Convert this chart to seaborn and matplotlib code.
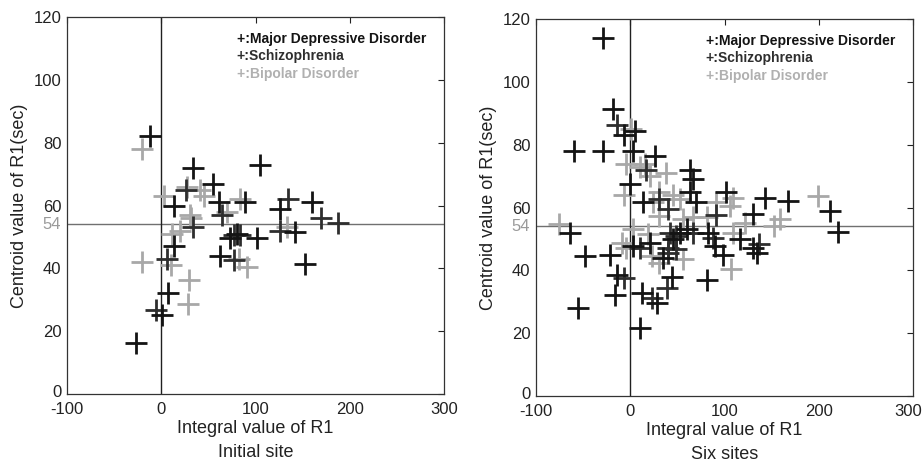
import numpy as np
import pandas as pd
import matplotlib
matplotlib.use("Agg")
import matplotlib.pyplot as plt
import matplotlib.transforms as mtransforms
import seaborn as sns

# ---- Initial site ----
init_mdd_x = [-12, 34, 105, 55, 13, 61, 89, 73, 80, 102, 126, 160, 142, 152, 62, 13, -27, 7, 1]
init_mdd_y = [82, 72, 73, 67, 60, 61, 61, 49.5, 51, 49.7, 59, 61, 51.6, 41.5, 44, 47, 16.3, 32.3, 25]
init_scz_x = [26, 34, 64, 77, 84, 135, 170, 188, 126, 77, 6, -6]
init_scz_y = [65, 53, 57, 50.5, 50.5, 62, 56, 54.5, 52, 42.5, 43, 26.6]
init_bp_x = [-20, 27, 3, 41, 45, 31, 32, 70, 84, 133, 82, 91, -20, 10, 29, 28, 20, 11]
init_bp_y = [78, 66, 63, 65, 63, 57, 56, 58, 62, 53, 43, 40.4, 42, 41, 36.4, 28.7, 52, 51]

# ---- Six sites ----
six_mdd_x = [-29, -18, -7, 5, -60, -29, 3, 26, 63, 67, 0, 63, 70, 14, 102, 143, 167, 212, 220,
             130, -64, -48, -55, -21.5, -14.5, -16, 3, 21, 35, 45.6, 52.6, 60, 83, 90, 98.6, 81,
             12, 28, 44, 10, 130, 135, 116]
six_mdd_y = [114, 91.4, 83, 84.5, 78, 78, 78, 76.5, 72, 69, 67.5, 65, 61.6, 61.6, 65, 63, 62, 59, 52.2,
             58, 52, 44.6, 28, 45, 38.4, 32.3, 47.8, 48.8, 44, 50, 52, 53, 52, 47.8, 45, 37,
             32.8, 29.6, 38, 21.6, 47.2, 45.6, 50]
six_scz_x = [-14.5, 17, 10, 40, 49, 42, 67, 88, 22.6, 38.5, 40, 49, 137, 91, 40, 31, -7]
six_scz_y = [86.4, 72, 47.2, 47.2, 51, 52, 52, 50.4, 31.2, 34.4, 45.6, 46.7, 48.3, 57.6, 59.5, 62.7, 37.6]
six_bp_x = [1, -4, 10, 38, 21, -7, 31, 45.6, 53, 24, 109, 106, 91.5, 199, 159, 152, 121.5, 109, -76,
            -9, -4, 22.6, 31, 56, 67, 81, 56, 107, 3, 19, 31, 15.5]
six_bp_y = [85, 74, 73, 71, 70, 64, 65, 64, 62.7, 61.6, 63, 60.5, 61.6, 63.7, 56.3, 54, 55, 52, 54.7,
            48.8, 47.2, 44.6, 42.4, 56.3, 57, 57, 43.5, 40.3, 53, 51.5, 57.4, 74]

groups = ["Major Depressive Disorder", "Schizophrenia", "Bipolar Disorder"]
palette = {"Major Depressive Disorder": "#141414", "Schizophrenia": "#2e2e2e", "Bipolar Disorder": "#a8a8a8"}


def make_df(mx, my, sx, sy, bx, by):
    parts = []
    for g, xs, ys in zip(groups, [mx, sx, bx], [my, sy, by]):
        parts.append(pd.DataFrame({"x": xs, "y": ys, "group": g}))
    return pd.concat(parts, ignore_index=True)


panels = [
    (make_df(init_mdd_x, init_mdd_y, init_scz_x, init_scz_y, init_bp_x, init_bp_y), "Initial site"),
    (make_df(six_mdd_x, six_mdd_y, six_scz_x, six_scz_y, six_bp_x, six_bp_y), "Six sites"),
]

sns.set_style("white")
plt.rcParams["font.family"] = ["Liberation Sans", "DejaVu Sans"]
plt.rcParams["axes.unicode_minus"] = False

fig = plt.figure(figsize=(9.23, 4.63), dpi=100)
rects = [[67 / 923, 1 - 394 / 463, 377 / 923, 377 / 463],
         [536 / 923, 1 - 396 / 463, 377 / 923, 377 / 463]]


def shift(label, dx_px, dy_px):
    label.set_transform(label.get_transform() +
                        mtransforms.ScaledTranslation(dx_px / 100, dy_px / 100, fig.dpi_scale_trans))


for k, (rect, (df, subtitle)) in enumerate(zip(rects, panels)):
    ax = fig.add_axes(rect)
    # reference lines
    ax.axhline(54, color="#707070", lw=1.0, zorder=1)
    ax.axvline(0, color="#202020", lw=1.0, zorder=1)
    # draw grey first so black sits on top
    for g in ["Bipolar Disorder", "Schizophrenia", "Major Depressive Disorder"]:
        sub = df[df["group"] == g]
        sns.scatterplot(data=sub, x="x", y="y", marker="+", s=250, linewidth=2.0,
                        color=palette[g], ax=ax, legend=False, zorder=3)
    ax.set_xlim(-100, 300)
    ax.set_ylim(0, 120)
    ax.set_xticks([-100, 0, 100, 200, 300])
    ax.set_yticks([0, 20, 40, 60, 80, 100, 120])
    ax.tick_params(direction="in", length=4, width=0.8, top=True, right=True,
                   labelsize=12, colors="#222222")
    ax.tick_params(axis="x", pad=6)
    ax.tick_params(axis="y", pad=4)
    for sp in ax.spines.values():
        sp.set_color("#333333")
        sp.set_linewidth(0.9)
    ax.set_xlabel("Integral value of R1\n" + subtitle, fontsize=13, color="#222222",
                  linespacing=1.55, labelpad=2)
    ax.set_ylabel("Centroid value of R1(sec)", fontsize=13, color="#222222", labelpad=4)
    # grey "54" marker on the y axis
    ax.text(-0.016, 54, "54", transform=ax.get_yaxis_transform(), ha="right", va="center",
            fontsize=12, color="#9a9a9a")
    # lift the y "0" so it clears the "-100" below it
    shift(ax.get_yticklabels()[0], 0, 3)
    if k == 1:
        # keep the last x tick label inside the figure
        shift(ax.get_xticklabels()[-1], -5, 0)
    # legend text
    for i, g in enumerate(groups):
        ax.text(0.45, 0.942 - i * 0.046, "+:" + g, transform=ax.transAxes, fontsize=10,
                fontweight="bold", color=palette[g] if g != "Bipolar Disorder" else "#b0b0b0",
                ha="left", va="center")

fig.savefig("out.png", dpi=100)
